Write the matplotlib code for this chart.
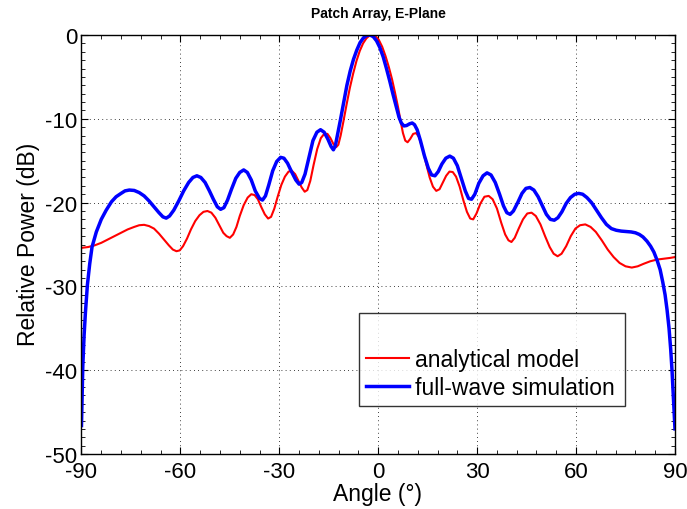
import matplotlib
matplotlib.use("Agg")
import matplotlib.pyplot as plt
from matplotlib.ticker import MultipleLocator

plt.rcParams['font.family'] = ['Liberation Sans', 'DejaVu Sans']
plt.rcParams['axes.unicode_minus'] = False

# analytical model (red), angle [deg] / relative power [dB]
ang_model = [-90, -88, -86, -84, -82, -80, -78, -76, -74, -72.5, -71, -69.5, -68, -66.5,
             -65, -63.5, -62.3, -61.2, -60.2, -59.2, -58, -56.8, -55.5, -54.2, -53, -51.8,
             -50.6, -49.4, -48.2, -47, -46, -45, -44, -43, -42, -40.8, -39.6, -38.5, -37.5,
             -36.5, -35.5, -34.4, -33.4, -32.5, -31.5, -30.5, -29.4, -28.3, -27.2, -26.2,
             -25.2, -24.2, -23.2, -22.3, -21.5, -20.6, -19.6, -18.5, -17.4, -16.4, -15.4,
             -14.5, -13.6, -12.8, -12.1, -11.4, -10.6, -9.6, -8.6, -7.6, -6.6, -5.6, -4.6,
             -3.6, -2.6, -1.7, -0.8, 0.2, 1.2, 2.2, 3.2, 4.2, 5.1, 6.0, 6.8, 7.5, 8.2, 8.9,
             9.7, 10.6, 11.5, 12.4, 13.4, 14.5, 15.6, 16.6, 17.6, 18.6, 19.6, 20.6, 21.6,
             22.6, 23.6, 24.7, 25.8, 26.9, 27.9, 28.8, 29.8, 31, 32.2, 33.5, 34.7, 36,
             37.3, 38.5, 39.5, 40.4, 41.4, 42.6, 43.9, 45.2, 46.5, 47.8, 49.2, 50.6, 52,
             53.2, 54.4, 55.6, 57, 58.4, 59.8, 61.2, 62.8, 64.4, 66, 67.8, 69.6, 71.4,
             73.2, 75, 76.9, 78.7, 80.5, 82.5, 84.5, 86.5, 88.5, 90]
pow_model = [-25.4, -25.3, -25.1, -24.8, -24.4, -24.0, -23.6, -23.2, -22.9, -22.7, -22.65,
             -22.8, -23.1, -23.7, -24.4, -25.1, -25.6, -25.8, -25.7, -25.2, -24.3, -23.2,
             -22.2, -21.5, -21.1, -21.0, -21.2, -21.8, -22.7, -23.6, -24.0, -24.2, -23.8,
             -22.9, -21.6, -20.3, -19.4, -19.0, -19.1, -19.6, -20.5, -21.4, -21.9, -21.7,
             -20.7, -19.3, -17.9, -16.9, -16.3, -16.2, -16.6, -17.4, -18.2, -18.7, -18.5,
             -17.4, -15.5, -13.6, -12.3, -11.8, -11.8, -12.3, -13.0, -13.4, -13.1, -12.0,
             -10.4, -8.3, -6.3, -4.6, -3.1, -1.9, -1.0, -0.4, -0.05, 0, -0.15, -0.6, -1.4,
             -2.5, -3.8, -5.3, -6.9, -8.6, -10.3, -11.7, -12.6, -12.8, -12.4, -11.8, -11.7,
             -12.2, -13.5, -15.3, -17.0, -18.1, -18.6, -18.4, -17.6, -16.8, -16.3, -16.35,
             -16.9, -18.1, -19.7, -21.1, -21.9, -22.0, -21.3, -20.1, -19.3, -19.2, -19.6,
             -20.7, -22.4, -23.8, -24.5, -24.7, -24.2, -23.1, -22.0, -21.3, -21.2, -21.6,
             -22.6, -24.0, -25.3, -26.1, -26.4, -26.1, -25.2, -24.0, -23.1, -22.7, -22.6,
             -22.9, -23.5, -24.5, -25.6, -26.5, -27.2, -27.6, -27.75, -27.6, -27.3, -27.0,
             -26.8, -26.7, -26.6, -26.5]

# full-wave simulation (blue)
ang_sim = [-90, -89.8, -89.6, -89.2, -88.8, -88.2, -87.5, -86.8, -85.5, -84, -82.5, -80.9,
           -79.5, -78, -76.8, -75.5, -74, -72.5, -71, -69.5, -68, -66.5, -65.3, -64.3,
           -63.3, -62, -60.5, -59, -57.5, -56.2, -55, -53.8, -52.5, -51.2, -50, -48.8,
           -47.8, -46.8, -45.7, -44.5, -43.2, -42, -40.8, -39.7, -38.5, -37.3, -36, -35.1,
           -34.2, -33.2, -32, -30.8, -29.6, -28.6, -27.5, -26.3, -25, -24, -23.2, -22.2,
           -21, -19.8, -18.6, -17.5, -16.4, -15.3, -14.3, -13.6, -13, -12.3, -11.5, -10.5,
           -9.5, -8.5, -7.5, -6.5, -5.5, -4.5, -3.5, -2.5, -1.5, -0.5, 0.5, 1.5, 2.5, 3.5,
           4.5, 5.5, 6.3, 7.0, 7.8, 8.6, 9.5, 10.3, 11, 11.8, 12.8, 14, 15.2, 16.2, 17.2,
           18.2, 19.3, 20.5, 21.7, 22.8, 24, 25.2, 26.4, 27.4, 28.3, 29.3, 30.5, 31.8, 33,
           34.2, 35.5, 36.8, 38, 39, 40, 41, 42.3, 43.6, 44.8, 46, 47.2, 48.5, 49.8, 51,
           52.2, 53.4, 54.5, 55.7, 57, 58.3, 59.6, 60.8, 62, 63.3, 64.7, 66.2, 67.7, 69.2,
           70.7, 72.2, 73.7, 75.2, 76.7, 78, 79.2, 80.3, 81.5, 82.6, 83.6, 84.6, 85.5,
           86.3, 87, 87.6, 88.2, 88.7, 89.1, 89.5, 89.8, 90]
pow_sim = [-46.6, -43, -39.5, -35.8, -33.1, -29.8, -27.3, -25.3, -23.5, -22.0, -20.9, -19.9,
           -19.3, -18.9, -18.6, -18.5, -18.55, -18.8, -19.2, -19.8, -20.5, -21.2, -21.7,
           -21.85, -21.6, -20.9, -19.8, -18.6, -17.6, -17.0, -16.8, -17.0, -17.6, -18.6,
           -19.6, -20.5, -20.8, -20.6, -19.7, -18.4, -17.1, -16.4, -16.1, -16.4, -17.3,
           -18.6, -19.5, -19.7, -19.2, -17.9, -16.2, -15.1, -14.6, -14.7, -15.3, -16.3,
           -17.3, -17.8, -17.6, -16.6, -14.6, -12.6, -11.6, -11.3, -11.6, -12.4, -13.3,
           -13.7, -13.2, -11.8, -10.2, -8.1, -6.0, -4.3, -2.9, -1.8, -0.9, -0.35, -0.05,
           0, -0.2, -0.7, -1.5, -2.6, -4.0, -5.5, -7.1, -8.6, -9.8, -10.5, -10.85, -10.8,
           -10.6, -10.5, -10.7, -11.3, -12.6, -14.4, -15.9, -16.7, -16.8, -16.3, -15.4,
           -14.7, -14.45, -14.7, -15.6, -17.1, -18.6, -19.5, -19.6, -19.0, -17.7, -16.8,
           -16.45, -16.7, -17.6, -19.0, -20.4, -21.2, -21.4, -21.0, -20.0, -18.9, -18.3,
           -18.2, -18.5, -19.3, -20.4, -21.4, -22.0, -22.1, -21.8, -21.1, -20.1, -19.4,
           -19.0, -18.9, -19.0, -19.4, -20.0, -20.9, -21.8, -22.6, -23.1, -23.3, -23.4,
           -23.45, -23.5, -23.6, -23.8, -24.1, -24.6, -25.2, -25.9, -26.9, -28.0, -29.5,
           -31.0, -32.8, -35.0, -37.5, -40, -43, -45.5, -47]

fig = plt.figure(figsize=(6.87, 5.10), dpi=100)
ax = fig.add_axes([0.1186, 0.1078, 0.8639, 0.8216])

ax.plot([], [], color='none', label=' ')
ax.plot(ang_model, pow_model, color='#ff0000', lw=1.5, solid_joinstyle='round',
        label='analytical model')
ax.plot(ang_sim, pow_sim, color='#0000ff', lw=2.5, solid_joinstyle='round',
        label='full-wave simulation')

ax.set_xlim(-90, 90)
ax.set_ylim(-50, 0)
ax.set_xticks([-90, -60, -30, 0, 30, 60, 90])
ax.set_yticks([-50, -40, -30, -20, -10, 0])
ax.xaxis.set_minor_locator(MultipleLocator(6))
ax.yaxis.set_minor_locator(MultipleLocator(1))
ax.tick_params(which='both', direction='in', top=True, right=True, labelsize=16)
ax.tick_params(which='major', length=5, width=0.8)
ax.tick_params(which='minor', length=3, width=0.6)
ax.tick_params(axis='x', pad=5)
ax.tick_params(axis='y', pad=3)
ax.grid(True, which='major', color='k', linestyle=(0, (1, 4)), lw=0.6)
for s in ax.spines.values():
    s.set_linewidth(1.0)

fig.text(0.5502, 0.9725, 'Patch Array, E-Plane', fontsize=10, fontweight='bold',
         ha='center', va='center')
fig.text(0.5502, 0.031, 'Angle (°)', fontsize=16.5, ha='center', va='center')
fig.text(0.041, 0.52, 'Relative Power (dB)', fontsize=16.5, rotation=90,
         ha='center', va='center')

leg = ax.legend(loc='lower left', bbox_to_anchor=(0.467, 0.1146, 0.449, 0.2315),
                mode='expand', fontsize=16.5, frameon=True, fancybox=False,
                handlelength=1.9, handletextpad=0.25, borderpad=0.3, labelspacing=0.22,
                borderaxespad=0)
leg.get_frame().set_edgecolor('k')
leg.get_frame().set_linewidth(1.0)

fig.savefig('out.png', dpi=100)
